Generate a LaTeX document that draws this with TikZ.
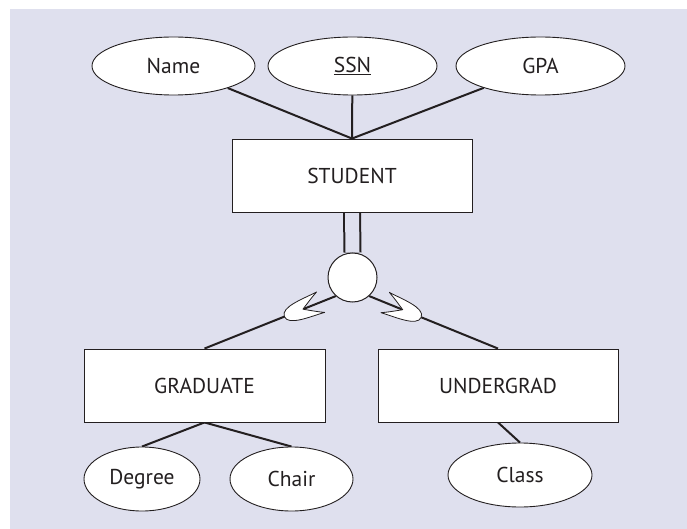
\documentclass[tikz,border=0pt]{standalone}
\usepackage{fontspec}
\setmainfont{PT Sans}
\usetikzlibrary{shapes.geometric}
\definecolor{bgc}{RGB}{223,224,238}
\definecolor{ink}{RGB}{35,31,32}
\pgfdeclarelayer{back}
\pgfdeclarelayer{links}
\pgfsetlayers{back,links,main}
\tikzset{
  entity/.style={draw=ink,line width=0.9pt,fill=white,minimum width=240pt,minimum height=73pt,inner sep=0pt,font=\fontsize{21.5}{24}\selectfont,text=ink},
  attr/.style={ellipse,draw=ink,line width=0.9pt,fill=white,inner sep=0pt,minimum height=58pt,font=\fontsize{21.5}{24}\selectfont,text=ink},
  link/.style={draw=ink,line width=2pt},
  cup/.style={fill=white,draw=ink,line width=0.8pt,line join=round},
  cupshape/.pic={\draw[cup] (19,11) .. controls (5,9.5) and (-20,10.5) .. (-20,0) .. controls (-20,-10.5) and (5,-9.5) .. (19,-11) .. controls (12,-7.5) and (5,-3) .. (0,0) .. controls (5,3) and (12,7.5) .. cycle;},
}
\begin{document}
\begin{tikzpicture}[x=1pt,y=-1pt]
\useasboundingbox (0,0) rectangle (687,529);
\begin{pgfonlayer}{back}
\fill[white] (0,0) rectangle (687,529);
\fill[bgc] (10,9) rectangle (687,529);
\end{pgfonlayer}
% entities
\node[entity] (student) at (352,175.5) {STUDENT};
\node[entity,minimum width=241pt] (grad) at (204.5,385.5) {GRADUATE};
\node[entity] (under) at (498,385.5) {UNDERGRAD};
% attributes
\node[attr,minimum width=163pt] (name) at (173.5,66) {Name};
\node[attr,minimum width=169pt] (ssn) at (352.5,66) {\underline{SSN}};
\node[attr,minimum width=169pt] (gpa) at (540.5,66) {GPA};
\node[attr,minimum width=116pt,minimum height=64pt] (degree) at (142,479) {Degree};
\node[attr,minimum width=123pt,minimum height=64pt] (chair) at (291.5,479) {Chair};
\node[attr,minimum width=144pt,minimum height=64pt] (class) at (520,475) {Class};
% specialization circle
\node[circle,draw=ink,line width=1pt,fill=white,minimum size=49pt,inner sep=0pt] (isa) at (352.5,277.5) {};
% connectors
\begin{pgfonlayer}{links}
\draw[link] (name) -- (student.north);
\draw[link] (ssn) -- (student.north);
\draw[link] (gpa) -- (student.north);
\draw[draw=ink,line width=2pt,double=bgc,double distance=14pt] (student.south) -- (isa.north);
\draw[link] (isa.228) -- (grad.north);
\draw[link] (isa.312) -- (under.north);
\draw[link] (grad.south) -- (degree.north);
\draw[link] (grad.south) -- (chair.north);
\draw[link] (under.south) -- (class.north);
\end{pgfonlayer}
\path (isa.228) -- (grad.north) coordinate[pos=0.25] (cupL);
\path (isa.312) -- (under.north) coordinate[pos=0.26] (cupR);
% subset symbols
\pic[rotate=21.65] at (cupL) {cupshape};
\pic[rotate=157.7] at (cupR) {cupshape};
\end{tikzpicture}
\end{document}
